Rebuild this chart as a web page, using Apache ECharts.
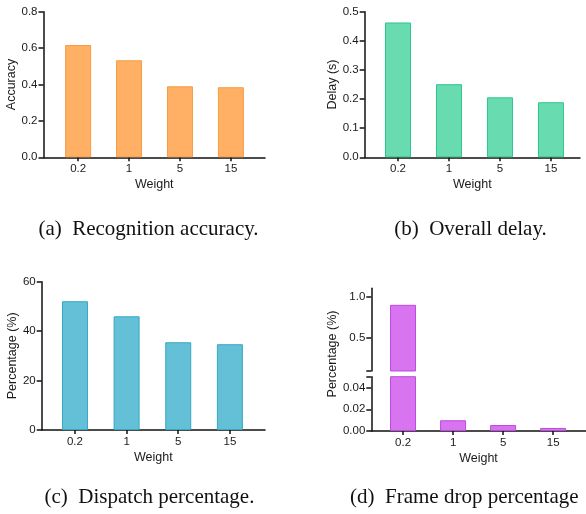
<!DOCTYPE html>
<html>
<head>
<meta charset="utf-8">
<script src="https://cdn.jsdelivr.net/npm/echarts@6/dist/echarts.min.js"></script>
<style>html,body{margin:0;padding:0;background:#fff}#c{width:586px;height:514px}</style>
</head>
<body>
<div id="c"></div>
<script>
// ---- data ----
var weights = ['0.2', '1', '5', '15'];
var accuracy = [0.617, 0.533, 0.390, 0.385];
var delay = [0.463, 0.251, 0.206, 0.189];
var dispatch = [52.1, 46.0, 35.5, 34.7];
var frameDrop = [0.9, 0.0099, 0.0055, 0.0028];
var accTicks = [0, 0.2, 0.4, 0.6, 0.8];
var delayTicks = [0, 0.1, 0.2, 0.3, 0.4, 0.5];
var dispTicks = [0, 20, 40, 60];
var dropUpperTicks = [0.5, 1.0];
var dropLowerTicks = [0, 0.02, 0.04];
var captions = ['(a)\u2002Recognition accuracy.', '(b)\u2002Overall delay.', '(c)\u2002Dispatch percentage.', '(d)\u2002Frame drop percentage'];

var chart = echarts.init(document.getElementById('c'), null, {renderer: 'canvas'});
var SANS = 'Liberation Sans';
var TXT = '#1a1a1a';
var AX = '#111';
var idx = weights.map(function (w, i) { return i; });

function pts(arr) { return arr.map(function (v, i) { return [i, v]; }); }

function xAxis(gi, min, max, show) {
  return {
    type: 'value', gridIndex: gi, min: min, max: max, show: show !== false,
    name: 'Weight', nameLocation: 'middle', nameGap: 21,
    nameTextStyle: {fontFamily: SANS, fontSize: 12.5, color: TXT},
    axisLine: {show: true, onZero: false, lineStyle: {color: AX, width: 1.5}},
    axisTick: {show: true, length: 4, customValues: idx, lineStyle: {color: AX, width: 1.5}},
    axisLabel: {customValues: idx, margin: 6, fontFamily: SANS, fontSize: 11.5, color: TXT,
      formatter: function (v) { return weights[Math.round(v)]; }},
    splitLine: {show: false}
  };
}
function yAxis(gi, min, max, tickVals, labelVals, dec, name, gap) {
  return {
    type: 'value', gridIndex: gi, min: min, max: max,
    name: name || '', nameLocation: 'middle', nameGap: gap || 24,
    nameTextStyle: {fontFamily: SANS, fontSize: 12.5, color: TXT},
    axisLine: {show: true, onZero: false, lineStyle: {color: AX, width: 1.5}},
    axisTick: {show: true, length: 5, customValues: tickVals, lineStyle: {color: AX, width: 1.5}},
    axisLabel: {customValues: labelVals, margin: 6, fontFamily: SANS, fontSize: 11.5, color: TXT,
      formatter: function (v) { return v.toFixed(dec); }},
    splitLine: {show: false}
  };
}
function bar(gi, data, fill, border) {
  return {
    type: 'bar', xAxisIndex: gi, yAxisIndex: gi, data: pts(data), barWidth: 26,
    itemStyle: {color: fill, borderColor: border, borderWidth: 1},
    clip: true, silent: true, animation: false
  };
}

var option = {
  animation: false,
  grid: [
    {left: 43.5, top: 11.7, width: 221.5, height: 145.6},
    {left: 364.7, top: 11.7, width: 215.3, height: 145.6},
    {left: 41.7, top: 281.7, width: 223.3, height: 148.3},
    {left: 371.3, top: 288.3, width: 214.4, height: 82.7},
    {left: 371.3, top: 376.7, width: 214.4, height: 54.3}
  ],
  xAxis: [
    xAxis(0, -0.68, 3.67),
    xAxis(1, -0.653, 3.57),
    xAxis(2, -0.644, 3.68),
    xAxis(3, -0.634, 3.65, false),
    xAxis(4, -0.634, 3.65)
  ],
  yAxis: [
    yAxis(0, 0, 0.8, accTicks, accTicks, 1, 'Accuracy', 24),
    yAxis(1, 0, 0.5, delayTicks, delayTicks, 1, 'Delay (s)', 25),
    yAxis(2, 0, 60, dispTicks, dispTicks, 0, 'Percentage (%)', 21),
    yAxis(3, 0.1, 1.1, [0.1].concat(dropUpperTicks), dropUpperTicks, 1, '', 0),
    yAxis(4, 0, 0.05, dropLowerTicks.concat([0.05]), dropLowerTicks, 2, '', 0)
  ],
  series: [
    bar(0, accuracy, '#FFB064', '#F59C45'),
    bar(1, delay, '#68DCB0', '#2CC68C'),
    bar(2, dispatch, '#63C0D7', '#37A7C3'),
    bar(3, frameDrop, '#D874F0', '#BD4BE0'),
    bar(4, frameDrop, '#D874F0', '#BD4BE0')
  ],
  graphic: [
    {type: 'text', x: 333, y: 354, rotation: Math.PI / 2,
      style: {text: 'Percentage (%)', font: '12.5px "Liberation Sans"', fill: TXT, align: 'center', verticalAlign: 'middle'}},
    {type: 'text', x: 148.5, y: 229, style: {text: captions[0], font: '21px "Liberation Serif"', fill: '#111', align: 'center', verticalAlign: 'middle'}},
    {type: 'text', x: 470.5, y: 229, style: {text: captions[1], font: '21px "Liberation Serif"', fill: '#111', align: 'center', verticalAlign: 'middle'}},
    {type: 'text', x: 149.5, y: 497, style: {text: captions[2], font: '21px "Liberation Serif"', fill: '#111', align: 'center', verticalAlign: 'middle'}},
    {type: 'text', x: 350, y: 497, style: {text: captions[3], font: '21px "Liberation Serif"', fill: '#111', align: 'left', verticalAlign: 'middle'}}
  ]
};
chart.setOption(option);
</script>
</body>
</html>
